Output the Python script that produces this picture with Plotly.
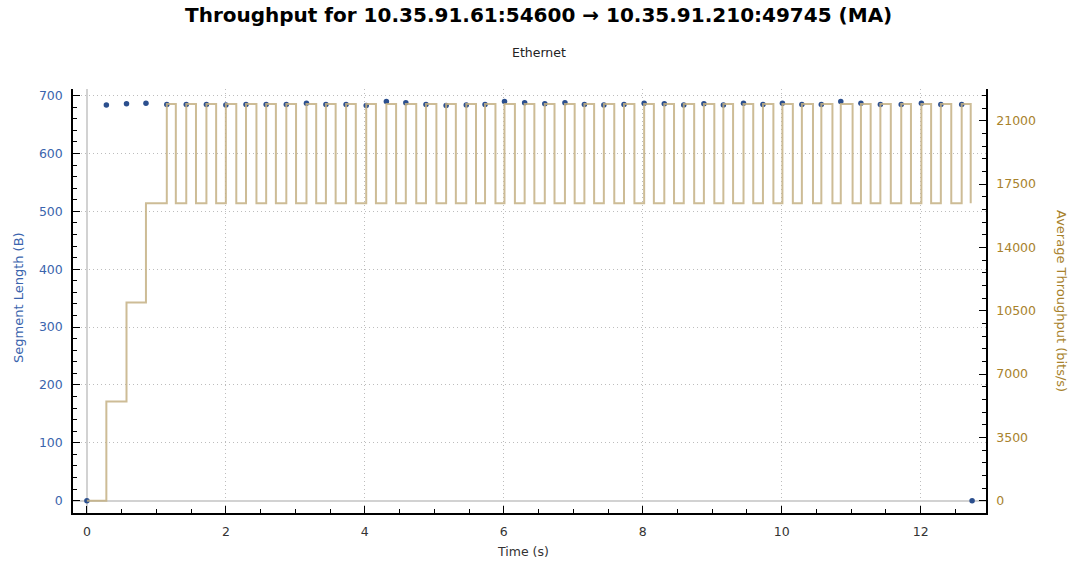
import plotly.graph_objects as go

# ---- Data ----
seg_time = [0.0, 0.28, 0.57, 0.85, 1.15, 1.43, 1.72, 2.00, 2.29, 2.58, 2.87,
            3.16, 3.44, 3.73, 4.02, 4.31, 4.59, 4.88, 5.17, 5.46, 5.73,
            6.01, 6.30, 6.59, 6.88, 7.16, 7.44, 7.73, 8.02, 8.31, 8.59,
            8.88, 9.16, 9.45, 9.73, 10.01, 10.29, 10.57, 10.85, 11.14, 11.42,
            11.72, 12.01, 12.29, 12.59, 12.74]
seg_len = [0, 684, 686, 687, 685, 685, 685, 684, 685, 685, 685,
           687, 685, 685, 683, 690, 688, 685, 683, 684, 685,
           690, 688, 686, 688, 685, 684, 685, 687, 686, 684,
           686, 684, 687, 685, 687, 685, 685, 690, 687, 685,
           685, 687, 685, 685, 0]

tp_time = [0.0, 0.28, 0.57, 0.85,
           1.15, 1.28, 1.43, 1.57, 1.72, 1.86, 2.00, 2.15, 2.29, 2.44,
           2.58, 2.72, 2.87, 3.01, 3.16, 3.30, 3.44, 3.58, 3.73, 3.87,
           4.02, 4.16, 4.31, 4.45, 4.59, 4.74, 4.88, 5.03, 5.17, 5.31,
           5.46, 5.60, 5.73, 5.88, 6.01, 6.16, 6.30, 6.44, 6.59, 6.73,
           6.88, 7.02, 7.16, 7.30, 7.44, 7.59, 7.73, 7.88, 8.02, 8.16,
           8.31, 8.45, 8.59, 8.74, 8.88, 9.03, 9.16, 9.30, 9.45, 9.59,
           9.73, 9.88, 10.01, 10.16, 10.29, 10.45, 10.57, 10.73, 10.85, 11.02,
           11.14, 11.28, 11.42, 11.57, 11.72, 11.86, 12.01, 12.15, 12.29, 12.44,
           12.59, 12.72]
tp_value = [0, 5480, 10960, 16440,
            21920, 16440, 21920, 16440, 21920, 16440, 21920, 16440, 21920, 16440,
            21920, 16440, 21920, 16440, 21920, 16440, 21920, 16440, 21920, 16440,
            21920, 16440, 21920, 16440, 21920, 16440, 21920, 16440, 21920, 16440,
            21920, 16440, 21920, 16440, 21920, 16440, 21920, 16440, 21920, 16440,
            21920, 16440, 21920, 16440, 21920, 16440, 21920, 16440, 21920, 16440,
            21920, 16440, 21920, 16440, 21920, 16440, 21920, 16440, 21920, 16440,
            21920, 16440, 21920, 16440, 21920, 16440, 21920, 16440, 21920, 16440,
            21920, 16440, 21920, 16440, 21920, 16440, 21920, 16440, 21920, 16440,
            21920, 16440]

title_text = "Throughput for 10.35.91.61:54600 \u2192 10.35.91.210:49745 (MA)"
subtitle_text = "Ethernet"
x_title = "Time (s)"
y_title = "Segment Length (B)"
y2_title = "Average Throughput (bits/s)"

BLUE = "#3a64ad"
GOLD = "#a8822c"
FONT = "DejaVu Sans"
GRID_DASH = "1px,3px"

fig = go.Figure()
fig.add_trace(go.Scatter(
    x=tp_time, y=tp_value, yaxis="y2", mode="lines",
    line=dict(shape="hv", color="rgba(196,176,132,0.85)", width=2),
    showlegend=False, hoverinfo="skip"))
fig.add_trace(go.Scatter(
    x=seg_time, y=seg_len, mode="markers",
    marker=dict(size=5.5, color="#2b4f8e"),
    showlegend=False))

axis_common = dict(
    showline=True, linecolor="black", linewidth=1.5,
    ticks="inside", ticklen=7, tickwidth=1.3, tickcolor="black",
    ticklabelstandoff=6,
)

fig.update_layout(
    width=1074, height=565,
    margin=dict(l=73, r=88, t=89, b=52),
    paper_bgcolor="white", plot_bgcolor="white",
    font=dict(family=FONT, size=12.5, color="#333333"),
    title=dict(text=title_text, x=0.51, xref="paper", xanchor="center",
               y=1 - 15 / 565, yref="container", yanchor="middle",
               font=dict(family=FONT, size=20, color="black", weight="bold")),
    xaxis=dict(range=[-0.2, 12.94], dtick=2, tick0=0,
               showgrid=True, gridcolor="#bdbdbd", griddash=GRID_DASH, gridwidth=1,
               zeroline=True, zerolinecolor="#d2d2d2", zerolinewidth=1.5,
               minor=dict(dtick=0.5, ticks="inside", ticklen=4, tickcolor="black", showgrid=False),
               tickfont=dict(color="#333333"),
               **axis_common),
    yaxis=dict(range=[-21.3, 711.6], dtick=100, tick0=0,
               showgrid=True, gridcolor="#bdbdbd", griddash=GRID_DASH, gridwidth=1,
               zeroline=True, zerolinecolor="#d2d2d2", zerolinewidth=1.5,
               minor=dict(dtick=20, ticks="inside", ticklen=4, tickcolor="black", showgrid=False),
               tickfont=dict(color=BLUE),
               **axis_common),
    yaxis2=dict(range=[-680, 22752], dtick=3500, tick0=0, tickformat="d",
                overlaying="y", side="right",
                showgrid=False, zeroline=False,
                minor=dict(dtick=700, ticks="inside", ticklen=4, tickcolor="black", showgrid=False),
                tickfont=dict(color=GOLD),
                **axis_common),
    annotations=[
        dict(text=subtitle_text, x=0.51, y=(513 - 53) / 424, xref="paper", yref="paper",
             xanchor="center", yanchor="middle", showarrow=False,
             font=dict(family=FONT, size=12.5, color="#222222")),
        dict(text=x_title, x=(523 - 73) / 913, y=(513 - 551) / 424, xref="paper", yref="paper",
             xanchor="center", yanchor="middle", showarrow=False,
             font=dict(family=FONT, size=12.5, color="#333333")),
        dict(text=y_title, x=(18 - 73) / 913, y=(513 - 298) / 424, xref="paper", yref="paper",
             xanchor="center", yanchor="middle", showarrow=False, textangle=-90,
             font=dict(family=FONT, size=13, color=BLUE)),
        dict(text=y2_title, x=(1062 - 73) / 913, y=(513 - 301) / 424, xref="paper", yref="paper",
             xanchor="center", yanchor="middle", showarrow=False, textangle=90,
             font=dict(family=FONT, size=13, color=GOLD)),
    ],
)

fig.write_html("out.html")
